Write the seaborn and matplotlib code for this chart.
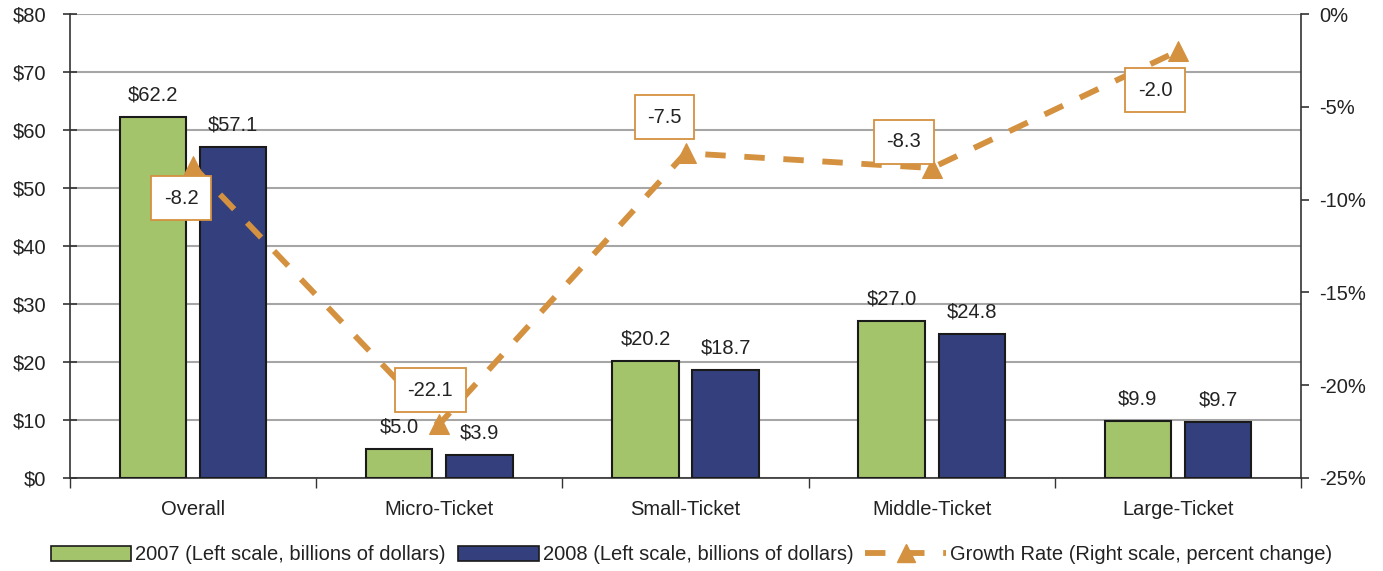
import matplotlib
matplotlib.use("Agg")
import matplotlib.pyplot as plt
import seaborn as sns
import pandas as pd
import numpy as np
from matplotlib.lines import Line2D
from matplotlib.patches import Patch

categories = ["Overall", "Micro-Ticket", "Small-Ticket", "Middle-Ticket", "Large-Ticket"]
vol_2007 = [62.2, 5.0, 20.2, 27.0, 9.9]
vol_2008 = [57.1, 3.9, 18.7, 24.8, 9.7]
growth = [-8.2, -22.1, -7.5, -8.3, -2.0]
series_names = ["2007 (Left scale, billions of dollars)", "2008 (Left scale, billions of dollars)"]
growth_name = "Growth Rate (Right scale, percent change)"

GREEN = "#A4C46B"
NAVY = "#34407E"
ORANGE = "#D4913F"
GRID = "#A6A6A6"
TEXT = "#222222"
FS = 14.5

sns.set_theme(style="white")
plt.rcParams["font.family"] = ["Liberation Sans", "DejaVu Sans"]

df = pd.DataFrame({
    "category": categories * 2,
    "value": vol_2007 + vol_2008,
    "series": [series_names[0]] * 5 + [series_names[1]] * 5,
})

fig = plt.figure(figsize=(13.83, 5.71), dpi=100)
ax = fig.add_axes([70 / 1383, 1 - 478 / 571, (1301 - 70) / 1383, (478 - 14) / 571])

sns.barplot(data=df, x="category", y="value", hue="series", order=categories,
            hue_order=series_names, palette=[GREEN, NAVY], saturation=1,
            width=0.65, gap=0.17, edgecolor="#1a1a1a", linewidth=1.5,
            ax=ax, legend=False, zorder=3)

ax.set_xlim(-0.5, 4.5)
ax.set_ylim(0, 80)
ax.set_yticks(np.arange(0, 81, 10))
ax.set_yticklabels([f"${v}" for v in range(0, 81, 10)])
ax.yaxis.grid(True, color=GRID, linewidth=1.5, zorder=0)
ax.set_axisbelow(True)
ax.set_xlabel("")
ax.set_ylabel("")

# category ticks sit at the group boundaries; names centred under groups
ax.set_xticks(np.arange(-0.5, 5.0, 1.0))
ax.set_xticklabels([])
ax.set_xticks(np.arange(5), minor=True)
ax.set_xticklabels(categories, minor=True)
ax.tick_params(axis="x", which="major", direction="out", length=7, width=1, color="#333333", bottom=True)
ax.tick_params(axis="x", which="minor", length=0, pad=16, labelsize=FS, labelcolor=TEXT)
ax.tick_params(axis="y", direction="inout", length=10, width=1.2, color="#333333", left=True,
               labelsize=FS, labelcolor=TEXT, pad=12)

for side in ["left", "bottom"]:
    ax.spines[side].set_color("#333333")
    ax.spines[side].set_linewidth(1.2)
for side in ["top", "right"]:
    ax.spines[side].set_visible(False)

# value labels over bars
for container, vals in zip(ax.containers, [vol_2007, vol_2008]):
    for patch, v in zip(container, vals):
        ax.annotate(f"${v:.1f}", (patch.get_x() + patch.get_width() / 2, v),
                    xytext=(0, 9), textcoords="offset points", ha="center", va="bottom",
                    fontsize=FS, color=TEXT, zorder=6)

# growth rate on the right axis
ax2 = ax.twinx()
ax2.set_ylim(-25, 0)
ax2.set_yticks(np.arange(-25, 1, 5))
ax2.set_yticklabels([f"{v}%" for v in range(-25, 1, 5)])
ax2.tick_params(axis="y", direction="out", length=6, width=1.2, color="#333333", right=True,
                labelsize=FS, labelcolor=TEXT, pad=7)
for side in ["left", "top", "bottom"]:
    ax2.spines[side].set_visible(False)
ax2.spines["right"].set_color("#333333")
ax2.spines["right"].set_linewidth(1.2)

xpos = np.arange(len(categories))
sns.lineplot(x=xpos, y=growth, ax=ax2, color=ORANGE, linewidth=4.2, zorder=4,
             marker="^", markersize=14, markeredgecolor=ORANGE, markerfacecolor=ORANGE)
line = ax2.lines[-1]
line.set_dashes((3.5, 3.2))
line.set_dash_capstyle("butt")
ax2.set_xlim(-0.5, 4.5)

# boxed growth labels
label_offsets = [(-8.6, -23), (-6.5, 24.5), (-15, 26), (-20, 19), (-16.5, -28)]
for x, g, (dx, dy) in zip(xpos, growth, label_offsets):
    ax2.annotate(f"{g:.1f}", (x, g), xytext=(dx, dy), textcoords="offset points",
                 ha="center", va="center", fontsize=FS, color=TEXT, zorder=7,
                 bbox=dict(boxstyle="square,pad=0.62", facecolor="white",
                           edgecolor=ORANGE, linewidth=1.3))

# legend along the bottom
handles = [
    Patch(facecolor=GREEN, edgecolor="#1a1a1a", linewidth=1.2),
    Patch(facecolor=NAVY, edgecolor="#1a1a1a", linewidth=1.2),
    Line2D([0], [0], color=ORANGE, linewidth=4.2, dashes=(3.5, 3.2), marker="^",
           markersize=13, markerfacecolor=ORANGE, markeredgecolor=ORANGE),
]
fig.legend(handles, series_names + [growth_name], loc="center", bbox_to_anchor=(0.5, 1 - 555 / 571),
           ncol=3, frameon=False, fontsize=FS, handlelength=4.0, handleheight=0.8,
           handletextpad=0.2, columnspacing=0.6, labelcolor=TEXT)

fig.savefig("out.png", dpi=100)
